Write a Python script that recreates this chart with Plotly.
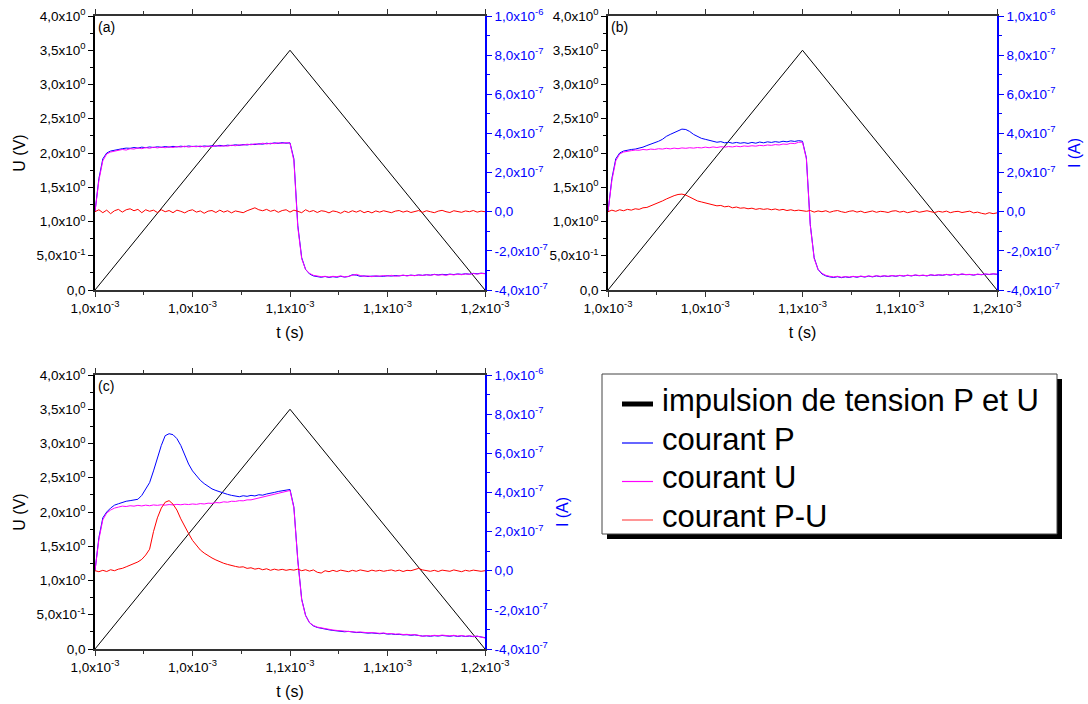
import numpy as np
import plotly.graph_objects as go

# ---------------- data ----------------
T_START, T_END, N_PTS = 1.0e-3, 1.2e-3, 101
TIME = np.linspace(T_START, T_END, N_PTS)

# voltage pulse (triangle), in V
PULSE_T = [1.0e-3, 1.1e-3, 1.2e-3]
PULSE_V = [0.0, 3.5, 0.0]

I_UNIT = 1e-7  # current arrays below are in units of 1e-7 A

P_A = [0.0, 1.7, 2.7, 3.0, 3.1, 3.15, 3.2, 3.22, 3.25, 3.24,
       3.28, 3.25, 3.3, 3.27, 3.31, 3.28, 3.32, 3.29, 3.33, 3.3,
       3.34, 3.31, 3.35, 3.32, 3.36, 3.33, 3.35, 3.32, 3.36, 3.34,
       3.37, 3.35, 3.39, 3.36, 3.4, 3.38, 3.42, 3.39, 3.43, 3.41,
       3.45, 3.43, 3.47, 3.45, 3.5, 3.47, 3.52, 3.49, 3.53, 3.5,
       3.52, 2.7, -0.7, -2.35, -2.95, -3.18, -3.28, -3.32, -3.35, -3.31,
       -3.36, -3.32, -3.35, -3.3, -3.34, -3.31, -3.22, -3.24, -3.3, -3.28,
       -3.31, -3.29, -3.3, -3.28, -3.3, -3.27, -3.29, -3.26, -3.28, -3.25,
       -3.27, -3.24, -3.26, -3.23, -3.25, -3.22, -3.24, -3.2, -3.23, -3.2,
       -3.22, -3.19, -3.21, -3.18, -3.2, -3.17, -3.19, -3.15, -3.17, -3.14,
       -3.16]
U_A = [0.0, 1.6, 2.6, 2.95, 3.05, 3.1, 3.12, 3.18, 3.15, 3.22,
       3.2, 3.26, 3.22, 3.28, 3.24, 3.3, 3.26, 3.3, 3.27, 3.32,
       3.28, 3.33, 3.3, 3.35, 3.3, 3.34, 3.32, 3.36, 3.31, 3.35,
       3.33, 3.38, 3.34, 3.37, 3.35, 3.4, 3.37, 3.42, 3.4, 3.45,
       3.42, 3.47, 3.44, 3.5, 3.46, 3.5, 3.48, 3.52, 3.49, 3.53,
       3.5, 2.6, -0.8, -2.4, -2.95, -3.15, -3.25, -3.3, -3.32, -3.3,
       -3.34, -3.3, -3.32, -3.28, -3.33, -3.3, -3.25, -3.2, -3.26, -3.3,
       -3.28, -3.32, -3.27, -3.3, -3.26, -3.29, -3.25, -3.3, -3.27, -3.24,
       -3.28, -3.25, -3.27, -3.23, -3.26, -3.22, -3.25, -3.21, -3.24, -3.22,
       -3.25, -3.2, -3.23, -3.19, -3.22, -3.18, -3.2, -3.16, -3.19, -3.15,
       -3.17]
R_A = [0.0, 0.1, -0.05, 0.08, -0.1, 0.05, 0.12, -0.02, 0.1, 0.15,
       0.05, 0.12, -0.05, 0.1, 0.02, 0.08, -0.04, 0.1, 0.0, 0.06,
       -0.05, 0.08, 0.02, -0.06, 0.05, 0.1, -0.02, 0.04, -0.08, 0.03,
       0.06, -0.04, 0.08, -0.02, 0.05, -0.06, 0.04, 0.0, -0.05, 0.05,
       0.12, 0.2, 0.1, 0.05, 0.12, 0.02, 0.08, -0.03, 0.06, 0.1,
       -0.02, 0.08, 0.02, -0.05, 0.1, 0.0, 0.06, -0.04, 0.05, 0.02,
       -0.06, 0.04, 0.0, -0.08, 0.03, -0.04, 0.05, -0.02, 0.06, -0.05,
       0.02, -0.06, 0.04, -0.02, 0.05, 0.0, -0.05, 0.03, 0.06, -0.02,
       0.04, -0.04, 0.02, 0.06, -0.03, 0.05, 0.0, -0.05, 0.03, 0.07,
       0.0, -0.04, 0.05, 0.02, -0.03, 0.04, 0.0, 0.06, -0.02, 0.03,
       0.0]

P_B = [0.0, 1.7, 2.7, 3.0, 3.1, 3.15, 3.18, 3.2, 3.24, 3.3,
       3.38, 3.45, 3.5, 3.6, 3.7, 3.85, 3.95, 4.05, 4.15, 4.22,
       4.2, 4.1, 3.95, 3.85, 3.75, 3.7, 3.65, 3.6, 3.55, 3.58,
       3.52, 3.55, 3.5, 3.54, 3.5, 3.53, 3.49, 3.54, 3.5, 3.56,
       3.52, 3.57, 3.54, 3.58, 3.55, 3.6, 3.57, 3.62, 3.59, 3.63,
       3.6, 2.75, -0.65, -2.35, -2.95, -3.18, -3.28, -3.33, -3.36, -3.32,
       -3.37, -3.33, -3.36, -3.31, -3.35, -3.3, -3.34, -3.29, -3.33, -3.28,
       -3.32, -3.28, -3.31, -3.27, -3.3, -3.26, -3.29, -3.25, -3.28, -3.24,
       -3.27, -3.25, -3.28, -3.23, -3.26, -3.23, -3.25, -3.21, -3.24, -3.2,
       -3.23, -3.19, -3.22, -3.21, -3.24, -3.2, -3.22, -3.19, -3.21, -3.18,
       -3.2]
U_B = [0.0, 1.6, 2.6, 2.95, 3.05, 3.1, 3.12, 3.15, 3.14, 3.18,
       3.16, 3.2, 3.18, 3.22, 3.2, 3.24, 3.21, 3.25, 3.22, 3.26,
       3.24, 3.27, 3.25, 3.28, 3.26, 3.3, 3.27, 3.31, 3.28, 3.32,
       3.3, 3.33, 3.31, 3.35, 3.32, 3.36, 3.34, 3.37, 3.35, 3.39,
       3.37, 3.41, 3.39, 3.43, 3.41, 3.46, 3.44, 3.5, 3.48, 3.55,
       3.55, 2.7, -0.7, -2.4, -2.95, -3.15, -3.25, -3.3, -3.33, -3.3,
       -3.35, -3.31, -3.34, -3.3, -3.33, -3.29, -3.32, -3.28, -3.31, -3.27,
       -3.3, -3.27, -3.3, -3.26, -3.29, -3.25, -3.28, -3.24, -3.27, -3.23,
       -3.26, -3.24, -3.27, -3.22, -3.25, -3.22, -3.24, -3.2, -3.23, -3.19,
       -3.22, -3.18, -3.21, -3.2, -3.23, -3.19, -3.21, -3.18, -3.2, -3.17,
       -3.19]
R_B = [0.0, 0.08, 0.02, 0.1, 0.05, 0.12, 0.08, 0.15, 0.12, 0.2,
       0.22, 0.3, 0.35, 0.45, 0.55, 0.65, 0.75, 0.82, 0.88, 0.9,
       0.85, 0.75, 0.65, 0.55, 0.5, 0.45, 0.4, 0.35, 0.3, 0.32,
       0.25, 0.28, 0.2, 0.24, 0.18, 0.2, 0.15, 0.18, 0.12, 0.16,
       0.12, 0.15, 0.1, 0.14, 0.08, 0.12, 0.06, 0.1, 0.05, 0.08,
       0.04, 0.02, 0.06, -0.02, 0.04, 0.0, 0.05, -0.03, 0.03, 0.06,
       0.0, -0.04, 0.02, 0.05, -0.02, 0.03, -0.05, 0.01, 0.04, -0.03,
       0.02, 0.0, -0.04, 0.03, 0.05, -0.02, 0.02, -0.05, 0.0, 0.04,
       -0.03, 0.02, 0.05, 0.0, -0.04, 0.02, -0.02, 0.03, -0.05, 0.0,
       0.02, -0.04, 0.01, 0.03, -0.06, -0.02, -0.08, -0.12, -0.05, -0.1,
       -0.06]

P_C = [0.0, 1.7, 2.7, 3.0, 3.2, 3.35, 3.42, 3.5, 3.55, 3.58,
       3.6, 3.65, 3.85, 4.15, 4.5, 5.1, 5.75, 6.4, 6.9, 7.0,
       6.95, 6.75, 6.4, 5.95, 5.45, 5.1, 4.85, 4.62, 4.45, 4.3,
       4.18, 4.1, 4.02, 3.96, 3.9, 3.85, 3.8, 3.78, 3.83, 3.8,
       3.85, 3.82, 3.88, 3.86, 3.92, 3.95, 4.0, 4.05, 4.08, 4.12,
       4.15, 3.25, 0.55, -1.45, -2.28, -2.66, -2.82, -2.9, -2.95, -2.98,
       -3.02, -3.05, -3.07, -3.09, -3.12, -3.1, -3.14, -3.16, -3.15, -3.18,
       -3.19, -3.18, -3.21, -3.22, -3.2, -3.24, -3.23, -3.26, -3.25, -3.28,
       -3.27, -3.3, -3.28, -3.32, -3.34, -3.33, -3.35, -3.32, -3.34, -3.31,
       -3.33, -3.35, -3.32, -3.36, -3.33, -3.36, -3.34, -3.37, -3.35, -3.4,
       -3.42]
U_C = [0.0, 1.6, 2.6, 2.95, 3.1, 3.2, 3.25, 3.3, 3.28, 3.32,
       3.3, 3.34, 3.31, 3.35, 3.32, 3.36, 3.34, 3.37, 3.35, 3.38,
       3.36, 3.39, 3.37, 3.4, 3.38, 3.41, 3.39, 3.43, 3.41, 3.45,
       3.44, 3.48, 3.47, 3.52, 3.5, 3.55, 3.54, 3.58, 3.57, 3.62,
       3.62, 3.67, 3.7, 3.76, 3.8, 3.86, 3.92, 3.98, 4.02, 4.08,
       4.1, 3.2, 0.5, -1.5, -2.3, -2.65, -2.8, -2.88, -2.92, -2.97,
       -3.0, -3.03, -3.05, -3.07, -3.1, -3.09, -3.12, -3.14, -3.13, -3.16,
       -3.17, -3.16, -3.19, -3.2, -3.18, -3.22, -3.21, -3.24, -3.23, -3.26,
       -3.25, -3.28, -3.26, -3.3, -3.35, -3.31, -3.33, -3.3, -3.32, -3.29,
       -3.31, -3.33, -3.3, -3.34, -3.31, -3.35, -3.32, -3.36, -3.34, -3.38,
       -3.44]
R_C = [0.0, -0.05, 0.02, -0.04, 0.05, 0.0, 0.08, 0.12, 0.2, 0.28,
       0.35, 0.45, 0.58, 0.8, 1.1, 2.0, 2.7, 3.2, 3.5, 3.58,
       3.4, 3.1, 2.65, 2.25, 1.9, 1.55, 1.3, 1.06, 0.9, 0.76,
       0.65, 0.55, 0.45, 0.38, 0.32, 0.25, 0.22, 0.18, 0.2, 0.12,
       0.15, 0.08, 0.12, 0.05, 0.1, 0.02, 0.08, 0.03, 0.07, 0.02,
       0.06, 0.03, 0.08, 0.0, 0.05, -0.02, 0.04, -0.08, -0.12, 0.0,
       -0.05, 0.02, -0.04, 0.03, 0.0, -0.05, 0.02, -0.03, 0.04, 0.0,
       -0.04, 0.03, -0.02, 0.02, -0.03, 0.01, 0.04, -0.02, 0.03, -0.04,
       0.02, 0.0, 0.06, 0.12, 0.04, 0.0, -0.03, 0.02, -0.04, 0.03,
       0.0, -0.03, 0.04, 0.0, -0.05, 0.02, -0.02, 0.03, 0.0, -0.03,
       0.0]

# tick labels
X_TICKS = [1.0e-3, 1.05e-3, 1.1e-3, 1.15e-3, 1.2e-3]
X_TEXT = ["1,0x10<sup>-3</sup>", "1,0x10<sup>-3</sup>", "1,1x10<sup>-3</sup>",
          "1,1x10<sup>-3</sup>", "1,2x10<sup>-3</sup>"]
X_MINOR = [1.025e-3, 1.075e-3, 1.125e-3, 1.175e-3]
U_TICKS = [0.0, 0.5, 1.0, 1.5, 2.0, 2.5, 3.0, 3.5, 4.0]
U_TEXT = ["0,0", "5,0x10<sup>-1</sup>", "1,0x10<sup>0</sup>", "1,5x10<sup>0</sup>",
          "2,0x10<sup>0</sup>", "2,5x10<sup>0</sup>", "3,0x10<sup>0</sup>",
          "3,5x10<sup>0</sup>", "4,0x10<sup>0</sup>"]
U_MINOR = [0.25, 0.75, 1.25, 1.75, 2.25, 2.75, 3.25, 3.75]
I_TICKS = [-4e-7, -2e-7, 0.0, 2e-7, 4e-7, 6e-7, 8e-7, 1e-6]
I_TEXT = ["-4,0x10<sup>-7</sup>", "-2,0x10<sup>-7</sup>", "0,0", "2,0x10<sup>-7</sup>",
          "4,0x10<sup>-7</sup>", "6,0x10<sup>-7</sup>", "8,0x10<sup>-7</sup>",
          "1,0x10<sup>-6</sup>"]
I_MINOR = [-3e-7, -1e-7, 1e-7, 3e-7, 5e-7, 7e-7, 9e-7]

LEGEND_NAMES = ["impulsion de tension P et U", "courant P", "courant U", "courant P-U"]

# ---------------- style ----------------
W, H = 1088, 704
FONT = "Liberation Sans, Arial, sans-serif"
BLUE = "#0000ff"
MAGENTA = "#ff00ff"
RED = "#ff0000"
AX_GREY = "#333333"
LEG_COLORS = ["black", BLUE, MAGENTA, "#ff5050"]
LEG_WIDTHS = [5, 1.2, 1.2, 1.2]
TICK_SIZE = 13.5

PANELS = [
    dict(tag="(a)", P=P_A, U=U_A, R=R_A, px=(95, 485), py=(16, 290), ltitle=True, rtitle=False),
    dict(tag="(b)", P=P_B, U=U_B, R=R_B, px=(608, 997), py=(16, 290), ltitle=False, rtitle=True),
    dict(tag="(c)", P=P_C, U=U_C, R=R_C, px=(95, 485), py=(375, 649), ltitle=True, rtitle=True),
]


def px_x(v):
    return v / W


def px_y(v):
    return 1 - v / H


fig = go.Figure()
layout = dict(
    width=W, height=H, autosize=False,
    margin=dict(l=0, r=0, t=0, b=0, autoexpand=False),
    paper_bgcolor="white", plot_bgcolor="white",
    font=dict(family=FONT, size=13, color="black"),
    showlegend=False,
)
annotations = []
shapes = []

for k, pn in enumerate(PANELS):
    n = k + 1
    xa = "x" if n == 1 else f"x{n}"
    yl_i = 2 * k + 1
    yr_i = 2 * k + 2
    yl = "y" if yl_i == 1 else f"y{yl_i}"
    yr = f"y{yr_i}"
    xkey = "xaxis" if n == 1 else f"xaxis{n}"
    ylkey = "yaxis" if yl_i == 1 else f"yaxis{yl_i}"
    yrkey = f"yaxis{yr_i}"
    dx = [px_x(pn["px"][0]), px_x(pn["px"][1])]
    dy = [px_y(pn["py"][1]), px_y(pn["py"][0])]

    layout[xkey] = dict(
        domain=dx, anchor=yl, range=[T_START, T_END], automargin=False,
        tickmode="array", tickvals=X_TICKS, ticktext=X_TEXT,
        ticks="outside", ticklen=5, tickwidth=1, tickcolor=AX_GREY,
        showline=True, linecolor=AX_GREY, linewidth=1.5, mirror="ticks",
        showgrid=False, zeroline=False,
        minor=dict(tickmode="array", tickvals=X_MINOR, ticks="outside", ticklen=3,
                   tickcolor=AX_GREY, showgrid=False),
        tickfont=dict(size=TICK_SIZE, color="black"),
        title=dict(text="t (s)", font=dict(size=16), standoff=12),
    )
    layout[ylkey] = dict(
        domain=dy, anchor=xa, range=[0, 4.0], automargin=False,
        tickmode="array", tickvals=U_TICKS, ticktext=U_TEXT,
        ticks="outside", ticklen=5, tickwidth=1, tickcolor="black",
        showline=True, linecolor="black", linewidth=1.5,
        showgrid=False, zeroline=False,
        minor=dict(tickmode="array", tickvals=U_MINOR, ticks="outside", ticklen=3,
                   tickcolor="black", showgrid=False),
        tickfont=dict(size=TICK_SIZE, color="black"),
        title=dict(text="U (V)" if pn["ltitle"] else "", font=dict(size=16), standoff=7),
    )
    layout[yrkey] = dict(
        overlaying=yl, anchor=xa, side="right", range=[-4e-7, 1e-6], automargin=False,
        tickmode="array", tickvals=I_TICKS, ticktext=I_TEXT,
        ticks="outside", ticklen=5, tickwidth=1, tickcolor=BLUE,
        showline=True, linecolor=BLUE, linewidth=1.5,
        showgrid=False, zeroline=False,
        minor=dict(tickmode="array", tickvals=I_MINOR, ticks="outside", ticklen=3,
                   tickcolor=BLUE, showgrid=False),
        tickfont=dict(size=TICK_SIZE, color=BLUE),
        title=dict(text="I (A)" if pn["rtitle"] else "", font=dict(size=16, color=BLUE), standoff=10),
    )

    fig.add_trace(go.Scatter(x=PULSE_T, y=PULSE_V, mode="lines", xaxis=xa, yaxis=yl,
                             name=LEGEND_NAMES[0], line=dict(color="black", width=1)))
    fig.add_trace(go.Scatter(x=TIME, y=np.array(pn["P"]) * I_UNIT, mode="lines", xaxis=xa, yaxis=yr,
                             name=LEGEND_NAMES[1], line=dict(color=BLUE, width=1)))
    fig.add_trace(go.Scatter(x=TIME, y=np.array(pn["U"]) * I_UNIT, mode="lines", xaxis=xa, yaxis=yr,
                             name=LEGEND_NAMES[2], line=dict(color=MAGENTA, width=1)))
    fig.add_trace(go.Scatter(x=TIME, y=np.array(pn["R"]) * I_UNIT, mode="lines", xaxis=xa, yaxis=yr,
                             name=LEGEND_NAMES[3], line=dict(color=RED, width=1)))

    annotations.append(dict(text=pn["tag"], xref=f"{xa} domain", yref=f"{yl} domain",
                            x=0.002, y=0.995, xanchor="left", yanchor="top", showarrow=False,
                            font=dict(size=14, color="black")))

# ---------------- legend box (drawn manually) ----------------
LEG_BOX = (602, 374, 1057, 534)   # px: left, top, right, bottom
SHADOW = 5
ROW_Y = [400, 439, 477.5, 516]
SYM_X = (622, 653)
TXT_X = 660

shapes.append(dict(type="rect", xref="paper", yref="paper", layer="above",
                   x0=px_x(LEG_BOX[0] + SHADOW), x1=px_x(LEG_BOX[2] + SHADOW),
                   y0=px_y(LEG_BOX[3] + SHADOW), y1=px_y(LEG_BOX[1] + SHADOW),
                   fillcolor="black", line=dict(width=0)))
shapes.append(dict(type="rect", xref="paper", yref="paper", layer="above",
                   x0=px_x(LEG_BOX[0]), x1=px_x(LEG_BOX[2]),
                   y0=px_y(LEG_BOX[3]), y1=px_y(LEG_BOX[1]),
                   fillcolor="white", line=dict(color="#444444", width=1)))
for name, col, wdt, ry in zip(LEGEND_NAMES, LEG_COLORS, LEG_WIDTHS, ROW_Y):
    shapes.append(dict(type="line", xref="paper", yref="paper", layer="above",
                       x0=px_x(SYM_X[0]), x1=px_x(SYM_X[1]),
                       y0=px_y(ry + 4), y1=px_y(ry + 4),
                       line=dict(color=col, width=wdt)))
    annotations.append(dict(text=name, xref="paper", yref="paper",
                            x=px_x(TXT_X), y=px_y(ry), xanchor="left", yanchor="middle",
                            showarrow=False, font=dict(size=31, color="black", family=FONT)))

layout["shapes"] = shapes
layout["annotations"] = annotations
fig.update_layout(**layout)

fig.write_html("out.html", config={"displayModeBar": False},
               post_script="document.body.style.margin='0px';")
